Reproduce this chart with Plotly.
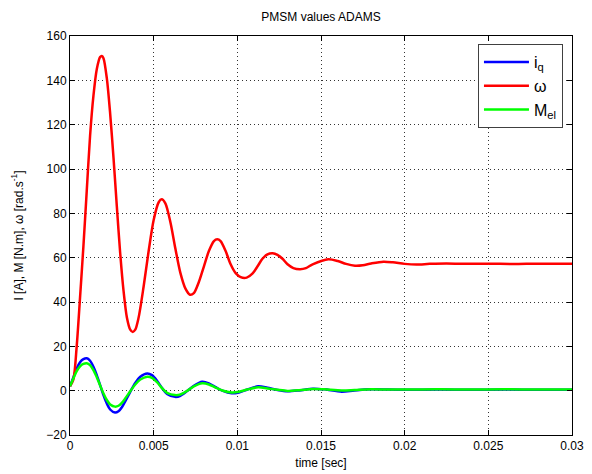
import plotly.graph_objects as go

# omega [rad/s]
t_w = [0, 0.0002, 0.0004, 0.0006, 0.0008, 0.001, 0.0012, 0.0014, 0.0016, 0.0018, 0.0019,
       0.002, 0.0022, 0.0024, 0.0026, 0.0028, 0.003, 0.0032, 0.0034, 0.0036, 0.00375,
       0.0039, 0.0041, 0.0044, 0.0047, 0.005, 0.0053, 0.00548, 0.0057, 0.006, 0.0063,
       0.0066, 0.0069, 0.00717, 0.0074, 0.0077, 0.008, 0.0083, 0.0086, 0.0088, 0.009,
       0.0093, 0.0096, 0.0099, 0.0102, 0.01056, 0.0109, 0.0112, 0.0115, 0.0118, 0.01211,
       0.0124, 0.0127, 0.013, 0.01335, 0.01375, 0.0141, 0.0145, 0.01544, 0.016, 0.0165,
       0.01703, 0.0175, 0.018, 0.01873, 0.0193, 0.02, 0.0207, 0.0215, 0.0225, 0.0235,
       0.025, 0.0265, 0.028, 0.03]
w = [2, 5, 20, 42, 65, 90, 115, 133, 145, 150.5, 151,
     150, 141, 125, 105, 83, 62, 45, 33, 27.5, 26.5,
     27.5, 33, 47, 63, 77, 85, 86.3, 84.5, 76, 64,
     53, 46, 43.3, 44, 49, 56, 63, 67.5, 68.3, 67.5,
     63, 57, 53, 51.2, 51, 52.8, 56, 59.5, 61.5, 62,
     61.3, 59.5, 57, 55.3, 54.8, 55.3, 57, 59.3, 58.5, 57.2,
     56.4, 56.6, 57.4, 58.2, 57.9, 57.2, 56.9, 57.2, 57.4, 57.2,
     57.3, 57.1, 57.3, 57.2]

# iq [A] and Mel [N.m]
t_i = [0, 0.0002, 0.0004, 0.0006, 0.0008, 0.001, 0.0012, 0.0014, 0.0016, 0.0018,
       0.002, 0.0022, 0.0024, 0.00269, 0.0029, 0.0031, 0.0033, 0.0036, 0.0039, 0.0042,
       0.00462, 0.0049, 0.0052, 0.0055, 0.0058, 0.00628, 0.0066, 0.007, 0.0074,
       0.0079, 0.0083, 0.0087, 0.0091, 0.00966, 0.0101, 0.0106, 0.01125, 0.0118,
       0.0124, 0.013, 0.0137, 0.01452, 0.0152, 0.01624, 0.017, 0.018, 0.019, 0.02,
       0.022, 0.024, 0.026, 0.028, 0.03]
iq = [2, 6, 10, 12.8, 14.2, 14.6, 13.5, 10.8, 7, 2.5,
      -2, -5.8, -8.5, -9.9, -9.3, -7.5, -4.8, -0.5, 3.5, 6.3,
      7.8, 7.0, 4.5, 1.2, -1.5, -2.8, -2.3, -0.2, 2.2,
      4.0, 3.3, 1.6, 0, -1.2, -0.8, 0.5, 2.0, 1.3,
      0.3, -0.3, 0.1, 0.9, 0.6, -0.5, 0.1, 0.6, 0.5, 0.4,
      0.5, 0.4, 0.5, 0.4, 0.4]
mel = [2, 5.5, 8.8, 11, 12.1, 12.4, 11.5, 9.3, 6.1, 2.4,
       -1.3, -4.2, -6.2, -7.2, -6.8, -5.5, -3.5, -0.3, 2.8, 5.0,
       6.3, 5.8, 3.8, 1.1, -1.0, -2.0, -1.7, -0.1, 1.9,
       3.3, 2.8, 1.4, 0.1, -0.8, -0.5, 0.5, 1.5, 1.0,
       0.4, -0.1, 0.2, 0.8, 0.6, 0.1, 0.3, 0.6, 0.5, 0.5,
       0.6, 0.5, 0.6, 0.5, 0.5]

x_ticks = [0, 0.005, 0.01, 0.015, 0.02, 0.025, 0.03]
x_labels = ["0", "0.005", "0.01", "0.015", "0.02", "0.025", "0.03"]
y_ticks = [-20, 0, 20, 40, 60, 80, 100, 120, 140, 160]

FONT = "Liberation Sans, Arial, Helvetica, sans-serif"

fig = go.Figure()
fig.add_trace(go.Scatter(x=t_i, y=iq, mode="lines", name="i<sub>q</sub>",
                         line=dict(color="#0000ff", width=2.5, shape="spline", smoothing=0.8)))
fig.add_trace(go.Scatter(x=t_w, y=w, mode="lines", name="ω",
                         line=dict(color="#ff0000", width=2.5, shape="spline", smoothing=0.8)))
fig.add_trace(go.Scatter(x=t_i, y=mel, mode="lines", name="M<sub>el</sub>",
                         line=dict(color="#00ff00", width=2.5, shape="spline", smoothing=0.8)))

axis_common = dict(showline=True, linecolor="#000000", linewidth=1, mirror="ticks",
                   ticks="inside", ticklen=5, tickcolor="#000000", automargin=False,
                   showgrid=True, gridcolor="#333333", griddash="1px,3px", gridwidth=1,
                   zeroline=False, tickfont=dict(family=FONT, size=12, color="#000000"))

# page body adds an 8px offset, so the figure is drawn 8px smaller
W, H = 584, 466
fig.update_layout(
    width=W, height=H,
    margin=dict(l=62, r=20, t=28, b=39, autoexpand=False),
    paper_bgcolor="white", plot_bgcolor="white",
    title=dict(text="PMSM values ADAMS", x=313 / W, xanchor="center", y=1 - 9 / H, yanchor="middle",
               font=dict(family=FONT, size=12, color="#000000")),
    xaxis=dict(range=[0, 0.03], tickvals=x_ticks, ticktext=x_labels,
               title=dict(text="time [sec]", font=dict(family=FONT, size=12, color="#000000"), standoff=6),
               **axis_common),
    yaxis=dict(range=[-20, 160], tickvals=y_ticks,
               title=dict(text="I [A], M [N.m], ω [rad.s<sup>-1</sup>]",
                          font=dict(family=FONT, size=12, color="#000000"), standoff=20),
               **axis_common),
    legend=dict(x=0.982, y=0.98, xanchor="right", yanchor="top",
                bgcolor="white", bordercolor="#404040", borderwidth=1, itemwidth=45,
                font=dict(family=FONT, size=16, color="#000000"), tracegroupgap=6),
    showlegend=True,
)

fig.write_html("out.html")
